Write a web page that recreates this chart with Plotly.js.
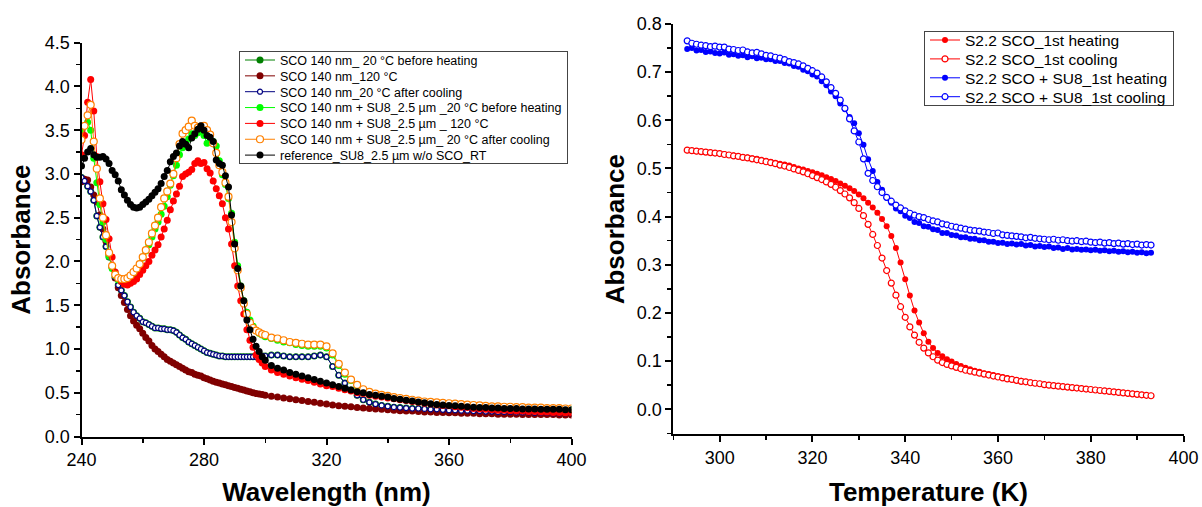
<!DOCTYPE html>
<html>
<head>
<meta charset="utf-8">
<script src="https://cdn.plot.ly/plotly-3.0.1.min.js"></script>
<style>html,body{margin:0;padding:0;background:#fff}#chart{width:1202px;height:507px}</style>
</head>
<body>
<div id="chart"></div>
<script>
// ---------- Left panel: UV-Vis spectra ----------
const wavelength = [
240,241,242,243,244,245,246,247,248,249,
250,251,252,253,254,255,256,257,258,259,
260,261,262,263,264,265,266,267,268,269,
270,271,272,273,274,275,276,277,278,279,
280,281,282,283,284,285,286,287,288,289,
290,291,292,293,294,295,296,297,298,299,300,
302,304,306,308,310,312,314,316,318,320,
322,324,326,328,330,332,334,336,338,340,
342,344,346,348,350,352,354,356,358,360,
362,364,366,368,370,372,374,376,378,380,
382,384,386,388,390,392,394,396,398,400];

const scoBeforeHeating = [
2.96,2.92,2.86,2.80,2.70,2.52,2.39,2.28,2.17,2.05,
1.94,1.82,1.73,1.67,1.61,1.54,1.48,1.42,1.38,1.35,
1.31,1.30,1.28,1.26,1.24,1.24,1.23,1.23,1.22,1.22,
1.21,1.19,1.16,1.13,1.11,1.08,1.06,1.04,1.02,1.00,
0.98,0.96,0.95,0.94,0.93,0.92,0.92,0.91,0.91,0.91,
0.91,0.91,0.91,0.91,0.91,0.91,0.91,0.91,0.91,0.92,0.92,
0.93,0.93,0.92,0.91,0.91,0.91,0.91,0.92,0.93,0.91,
0.80,0.70,0.61,0.53,0.47,0.42,0.39,0.37,0.355,0.345,
0.335,0.33,0.325,0.32,0.32,0.315,0.31,0.31,0.305,0.30,
0.30,0.295,0.295,0.29,0.29,0.285,0.285,0.28,0.28,0.28,
0.275,0.275,0.275,0.27,0.27,0.27,0.265,0.265,0.265,0.265];

const sco120C = [
2.91,2.94,2.93,2.85,2.76,2.68,2.53,2.37,2.23,2.08,
1.93,1.81,1.70,1.61,1.53,1.45,1.38,1.32,1.27,1.23,
1.18,1.13,1.09,1.04,1.00,0.97,0.94,0.91,0.88,0.86,
0.84,0.82,0.80,0.78,0.76,0.74,0.73,0.71,0.70,0.69,
0.67,0.66,0.645,0.63,0.62,0.61,0.60,0.59,0.58,0.57,
0.56,0.55,0.54,0.53,0.52,0.51,0.50,0.49,0.485,0.48,0.47,
0.46,0.45,0.44,0.43,0.42,0.41,0.40,0.39,0.38,0.37,
0.36,0.35,0.345,0.34,0.33,0.325,0.32,0.315,0.31,0.305,
0.30,0.295,0.29,0.29,0.285,0.28,0.28,0.275,0.275,0.27,
0.27,0.265,0.265,0.265,0.26,0.26,0.26,0.255,0.255,0.255,
0.255,0.25,0.25,0.25,0.25,0.25,0.25,0.245,0.245,0.245];

const scoAfterCooling = [
2.96,2.92,2.86,2.80,2.70,2.52,2.39,2.28,2.17,2.05,
1.94,1.82,1.73,1.67,1.61,1.54,1.48,1.42,1.38,1.35,
1.31,1.30,1.28,1.26,1.24,1.24,1.23,1.23,1.22,1.22,
1.21,1.19,1.16,1.13,1.11,1.08,1.06,1.04,1.02,1.00,
0.98,0.96,0.95,0.94,0.93,0.92,0.92,0.91,0.91,0.91,
0.91,0.91,0.91,0.91,0.91,0.91,0.91,0.91,0.91,0.92,0.92,
0.93,0.93,0.92,0.91,0.91,0.91,0.91,0.92,0.93,0.91,
0.80,0.70,0.61,0.53,0.47,0.42,0.39,0.37,0.355,0.345,
0.335,0.33,0.325,0.32,0.32,0.315,0.31,0.31,0.305,0.30,
0.30,0.295,0.295,0.29,0.29,0.285,0.285,0.28,0.28,0.28,
0.275,0.275,0.275,0.27,0.27,0.27,0.265,0.265,0.265,0.265];

const su8BeforeHeating = [
3.48,3.55,3.59,3.50,3.18,2.90,2.65,2.45,2.25,2.06,
1.92,1.84,1.79,1.77,1.76,1.77,1.80,1.85,1.90,1.96,
2.04,2.12,2.19,2.28,2.37,2.45,2.54,2.63,2.74,2.87,
2.98,3.10,3.22,3.30,3.34,3.40,3.46,3.44,3.47,3.49,
3.44,3.35,3.38,3.37,3.32,3.15,2.99,2.88,2.72,2.55,
2.22,1.95,1.72,1.55,1.42,1.33,1.26,1.21,1.18,1.16,1.14,
1.12,1.10,1.08,1.07,1.05,1.04,1.03,1.03,1.03,1.01,
0.93,0.81,0.71,0.64,0.58,0.53,0.50,0.48,0.47,0.455,
0.44,0.43,0.42,0.41,0.40,0.395,0.39,0.38,0.375,0.37,
0.365,0.36,0.355,0.35,0.345,0.34,0.34,0.335,0.335,0.33,
0.33,0.325,0.325,0.32,0.32,0.32,0.315,0.315,0.315,0.31];

const su8At120C = [
3.22,3.44,3.82,4.08,3.72,3.20,2.91,2.66,2.48,2.26,
2.05,1.88,1.81,1.77,1.74,1.73,1.75,1.77,1.80,1.85,
1.90,1.95,2.00,2.07,2.13,2.19,2.28,2.37,2.47,2.59,
2.69,2.77,2.86,2.97,3.00,3.02,3.05,3.12,3.15,3.12,
3.13,3.06,3.01,2.92,2.83,2.75,2.66,2.50,2.37,2.20,
1.95,1.72,1.55,1.40,1.22,1.10,1.02,0.93,0.88,0.84,0.80,
0.76,0.73,0.71,0.69,0.67,0.655,0.64,0.62,0.60,0.58,
0.57,0.55,0.535,0.52,0.50,0.49,0.47,0.46,0.45,0.44,
0.43,0.42,0.41,0.40,0.39,0.38,0.37,0.36,0.355,0.35,
0.34,0.335,0.33,0.32,0.315,0.31,0.305,0.30,0.30,0.295,
0.29,0.29,0.285,0.285,0.28,0.28,0.275,0.275,0.27,0.27];

const su8AfterCooling = [
3.39,3.55,3.67,3.79,3.37,3.06,2.72,2.50,2.30,2.10,
1.95,1.85,1.81,1.80,1.80,1.81,1.84,1.88,1.92,1.97,
2.05,2.13,2.22,2.32,2.41,2.50,2.62,2.72,2.80,2.89,
3.00,3.18,3.34,3.46,3.50,3.54,3.61,3.55,3.53,3.54,
3.55,3.50,3.45,3.35,3.24,3.10,3.02,2.90,2.74,2.45,
2.15,1.90,1.70,1.52,1.40,1.30,1.24,1.21,1.19,1.17,1.16,
1.13,1.12,1.10,1.08,1.07,1.06,1.05,1.05,1.05,1.03,
0.95,0.83,0.73,0.65,0.59,0.54,0.51,0.49,0.475,0.465,
0.45,0.44,0.43,0.42,0.41,0.40,0.395,0.39,0.385,0.38,
0.375,0.37,0.365,0.36,0.355,0.35,0.345,0.345,0.34,0.34,
0.335,0.335,0.33,0.33,0.33,0.325,0.325,0.325,0.32,0.32];

const referenceSU8 = [
3.09,3.18,3.25,3.29,3.22,3.19,3.19,3.20,3.17,3.12,
3.04,2.99,2.92,2.82,2.76,2.70,2.65,2.62,2.61,2.62,
2.65,2.68,2.71,2.75,2.79,2.83,2.89,2.97,3.04,3.14,
3.20,3.24,3.32,3.37,3.34,3.30,3.41,3.46,3.51,3.55,
3.50,3.44,3.42,3.37,3.16,3.12,3.10,2.98,2.85,2.53,
2.20,1.92,1.72,1.55,1.33,1.22,1.11,1.03,0.97,0.91,0.87,
0.81,0.78,0.76,0.73,0.71,0.69,0.67,0.65,0.63,0.61,
0.59,0.57,0.55,0.53,0.51,0.50,0.48,0.47,0.46,0.45,
0.435,0.425,0.415,0.405,0.395,0.385,0.375,0.365,0.36,0.355,
0.35,0.345,0.34,0.335,0.33,0.33,0.325,0.325,0.32,0.32,
0.32,0.315,0.315,0.315,0.31,0.31,0.31,0.31,0.305,0.305];

const leftNames = [
"SCO 140 nm_ 20 °C before heating",
"SCO 140 nm_120 °C",
"SCO 140 nm_20 °C after cooling",
"SCO 140 nm + SU8_2.5 µm _20 °C before heating",
"SCO 140 nm + SU8_2.5 µm _ 120 °C",
"SCO 140 nm + SU8_2.5 µm_ 20 °C after cooling",
"reference_SU8_2.5 µm w/o SCO_RT"];

// ---------- Right panel: thermal transition ----------
const temperature = [
293,294,295,296,297,298,299,300,301,302,
303,304,305,306,307,308,309,310,311,312,
313,314,315,316,317,318,319,320,321,322,
323,324,325,326,327,328,329,330,331,332,
333,334,335,336,337,338,339,340,341,342,
343,344,345,346,347,348,349,350,351,352,
353,354,355,356,357,358,359,360,361,362,
363,364,365,366,367,368,369,370,371,372,
373,374,375,376,377,378,379,380,381,382,
383,384,385,386,387,388,389,390,391,392,
393];

const scoHeating = [
0.538,0.537,0.536,0.535,0.534,0.533,0.532,0.531,0.530,0.528,
0.527,0.526,0.524,0.523,0.521,0.520,0.518,0.516,0.514,0.512,
0.510,0.508,0.506,0.503,0.500,0.498,0.495,0.492,0.489,0.486,
0.482,0.478,0.474,0.469,0.464,0.459,0.453,0.446,0.438,0.429,
0.419,0.408,0.395,0.380,0.360,0.335,0.305,0.270,0.236,0.205,
0.180,0.158,0.140,0.127,0.117,0.110,0.104,0.099,0.094,0.090,
0.086,0.083,0.080,0.078,0.075,0.073,0.071,0.069,0.067,0.065,
0.062,0.060,0.059,0.057,0.056,0.054,0.053,0.051,0.050,0.049,
0.048,0.047,0.046,0.045,0.044,0.043,0.042,0.041,0.040,0.039,
0.038,0.037,0.036,0.035,0.034,0.033,0.032,0.031,0.030,0.029,
0.028];

const scoCooling = [
0.538,0.537,0.536,0.535,0.534,0.533,0.532,0.531,0.529,0.528,
0.526,0.525,0.523,0.522,0.520,0.518,0.516,0.514,0.512,0.510,
0.507,0.505,0.502,0.499,0.496,0.493,0.489,0.485,0.481,0.477,
0.472,0.467,0.461,0.454,0.447,0.439,0.429,0.417,0.402,0.384,
0.363,0.340,0.314,0.288,0.262,0.237,0.213,0.191,0.171,0.154,
0.139,0.127,0.117,0.109,0.102,0.097,0.093,0.090,0.087,0.084,
0.081,0.079,0.077,0.075,0.073,0.071,0.069,0.067,0.065,0.063,
0.062,0.060,0.058,0.057,0.055,0.054,0.053,0.051,0.050,0.049,
0.048,0.047,0.046,0.045,0.044,0.043,0.042,0.041,0.040,0.039,
0.038,0.037,0.036,0.035,0.034,0.033,0.032,0.031,0.030,0.029,
0.028];

const su8Heating = [
0.748,0.750,0.745,0.746,0.742,0.743,0.740,0.739,0.741,0.736,
0.737,0.734,0.735,0.731,0.733,0.729,0.730,0.727,0.727,0.723,
0.723,0.719,0.718,0.713,0.711,0.705,0.702,0.695,0.691,0.681,
0.673,0.660,0.650,0.635,0.623,0.607,0.594,0.573,0.549,0.519,
0.495,0.472,0.456,0.439,0.429,0.417,0.411,0.402,0.397,0.389,
0.387,0.380,0.379,0.374,0.372,0.366,0.366,0.362,0.361,0.357,
0.357,0.354,0.354,0.351,0.351,0.348,0.348,0.345,0.346,0.343,
0.344,0.342,0.343,0.340,0.341,0.338,0.339,0.337,0.338,0.335,
0.336,0.333,0.335,0.332,0.333,0.331,0.332,0.330,0.331,0.329,
0.330,0.328,0.329,0.327,0.328,0.326,0.327,0.325,0.326,0.324,
0.325];

const su8Cooling = [
0.765,0.760,0.758,0.756,0.755,0.753,0.754,0.752,0.752,0.748,
0.747,0.745,0.746,0.742,0.740,0.741,0.738,0.735,0.734,0.731,
0.729,0.726,0.722,0.720,0.717,0.713,0.708,0.703,0.698,0.690,
0.680,0.668,0.656,0.642,0.625,0.603,0.578,0.555,0.520,0.490,
0.475,0.462,0.450,0.440,0.432,0.424,0.418,0.412,0.407,0.403,
0.400,0.398,0.394,0.391,0.389,0.385,0.383,0.380,0.378,0.376,
0.374,0.372,0.371,0.370,0.368,0.367,0.365,0.366,0.362,0.361,
0.360,0.359,0.358,0.356,0.357,0.355,0.354,0.353,0.352,0.353,
0.351,0.352,0.350,0.349,0.350,0.348,0.349,0.347,0.346,0.347,
0.345,0.346,0.344,0.345,0.343,0.344,0.342,0.343,0.341,0.342,
0.341];

const rightNames = [
"S2.2 SCO_1st heating",
"S2.2 SCO_1st cooling",
"S2.2 SCO + SU8_1st heating",
"S2.2 SCO + SU8_1st cooling"];

// ---------- Traces ----------
function filled(name, x, y, color, size, xa, ya, leg) {
  return {type:'scatter', mode:'lines+markers', name:name, x:x, y:y,
    xaxis:xa, yaxis:ya, legend:leg,
    line:{color:color, width:1},
    marker:{symbol:'circle', size:size, color:color, line:{width:0}}};
}
function hollow(name, x, y, color, size, xa, ya, leg) {
  return {type:'scatter', mode:'lines+markers', name:name, x:x, y:y,
    xaxis:xa, yaxis:ya, legend:leg,
    line:{color:color, width:1},
    marker:{symbol:'circle', size:size, color:'#ffffff', line:{color:color, width:1.2}}};
}

const traces = [
  filled(leftNames[0], wavelength, scoBeforeHeating, '#008000', 7, 'x', 'y', 'legend'),
  filled(leftNames[1], wavelength, sco120C, '#800000', 7, 'x', 'y', 'legend'),
  hollow(leftNames[2], wavelength, scoAfterCooling, '#000080', 5, 'x', 'y', 'legend'),
  filled(leftNames[3], wavelength, su8BeforeHeating, '#00ff00', 7, 'x', 'y', 'legend'),
  filled(leftNames[4], wavelength, su8At120C, '#ff0000', 7, 'x', 'y', 'legend'),
  hollow(leftNames[5], wavelength, su8AfterCooling, '#ff8000', 7, 'x', 'y', 'legend'),
  filled(leftNames[6], wavelength, referenceSU8, '#000000', 7, 'x', 'y', 'legend'),
  filled(rightNames[0], temperature, scoHeating, '#ff0000', 6, 'x2', 'y2', 'legend2'),
  hollow(rightNames[1], temperature, scoCooling, '#ff0000', 6, 'x2', 'y2', 'legend2'),
  filled(rightNames[2], temperature, su8Heating, '#0000ff', 6, 'x2', 'y2', 'legend2'),
  hollow(rightNames[3], temperature, su8Cooling, '#0000ff', 6, 'x2', 'y2', 'legend2')
];

const FONT = 'Liberation Sans, Arial, sans-serif';
const W = 1202, H = 507;
const titleFont = {family:FONT, size:26, weight:'bold', color:'#000'};

function axisBase(extra) {
  return Object.assign({
    showgrid:false, zeroline:false, showline:true, linecolor:'#000', linewidth:2,
    ticks:'outside', ticklen:6, tickwidth:2, tickcolor:'#000',
    tickfont:{family:FONT, size:18, color:'#000'},
    automargin:false, mirror:false
  }, extra);
}
function minorTicks(t0, dt) {
  return {ticks:'outside', tickmode:'linear', tick0:t0, dtick:dt, ticklen:4, tickwidth:1.5, tickcolor:'#000', showgrid:false};
}

const layout = {
  width:W, height:H,
  margin:{l:0, r:0, t:0, b:0, pad:0},
  paper_bgcolor:'#ffffff', plot_bgcolor:'#ffffff',
  font:{family:FONT, size:16, color:'#000'},
  showlegend:true,
  xaxis: axisBase({
    domain:[81.5/W, 571.5/W], range:[240,400], anchor:'y',
    tickmode:'linear', tick0:240, dtick:40, minor:minorTicks(240,20),
    title:{text:'Wavelength (nm)', font:titleFont}
  }),
  yaxis: axisBase({
    domain:[(H-436.5)/H, (H-42.7)/H], range:[0,4.5], anchor:'x',
    tickmode:'linear', tick0:0, dtick:0.5, tickformat:'.1f', minor:minorTicks(0,0.25),
    title:{text:'Absorbance', font:titleFont}
  }),
  xaxis2: axisBase({
    domain:[673.3/W, 1183.5/W], range:[290,400], anchor:'y2',
    tickmode:'linear', tick0:300, dtick:20, minor:minorTicks(290,10),
    title:{text:'Temperature (K)', font:titleFont}
  }),
  yaxis2: axisBase({
    domain:[(H-434.3)/H, (H-24)/H], range:[-0.052,0.8], anchor:'x2',
    tickmode:'linear', tick0:0, dtick:0.1, tickformat:'.1f', minor:minorTicks(0,0.05),
    title:{text:'Absorbance', font:titleFont}
  }),
  legend:{x:239/W, y:(H-51)/H, xanchor:'left', yanchor:'top',
    bgcolor:'#ffffff', bordercolor:'#444', borderwidth:1,
    font:{family:FONT, size:12.5, color:'#000'}, tracegroupgap:0, itemwidth:30},
  legend2:{x:924/W, y:(H-31)/H, xanchor:'left', yanchor:'top',
    bgcolor:'#ffffff', bordercolor:'#444', borderwidth:1,
    font:{family:FONT, size:15.5, color:'#000'}, tracegroupgap:0, itemwidth:30}
};

// compact legend rows (reference legends use tighter row spacing than Plotly's minimum)
function tightenLegend(gd, cls, firstOffset, step, bottomPad) {
  const leg = gd.querySelector('g.' + cls);
  if (!leg) return;
  const items = leg.querySelectorAll('g.traces');
  if (!items.length) return;
  const parse = el => {
    const m = /translate\(\s*([-\d.e]+)[ ,]+([-\d.e]+)\s*\)/.exec(el.getAttribute('transform') || '');
    return m ? [parseFloat(m[1]), parseFloat(m[2])] : [0, 0];
  };
  items.forEach((it, i) => {
    const p = parse(it);
    it.setAttribute('transform', 'translate(' + p[0] + ',' + (firstOffset + i * step) + ')');
  });
  const newH = firstOffset + (items.length - 1) * step + bottomPad;
  leg.querySelectorAll('rect.bg').forEach(r => r.setAttribute('height', newH));
}
// nudge the vertical axis titles to the reference's horizontal position
function shiftTitle(gd, cls, dx) {
  const g = gd.querySelector('g.' + cls);
  if (!g) return;
  const t = g.getAttribute('transform') || '';
  g.setAttribute('transform', 'translate(' + dx + ',0) ' + t);
}

Plotly.newPlot('chart', traces, layout, {displayModeBar:false, staticPlot:true}).then(gd => {
  tightenLegend(gd, 'legend', 9, 15.85, 7.5);
  tightenLegend(gd, 'legend2', 9, 18.9, 8.5);
  shiftTitle(gd, 'g-ytitle', 6);
  shiftTitle(gd, 'g-y2title', 14);
});
</script>
</body>
</html>
